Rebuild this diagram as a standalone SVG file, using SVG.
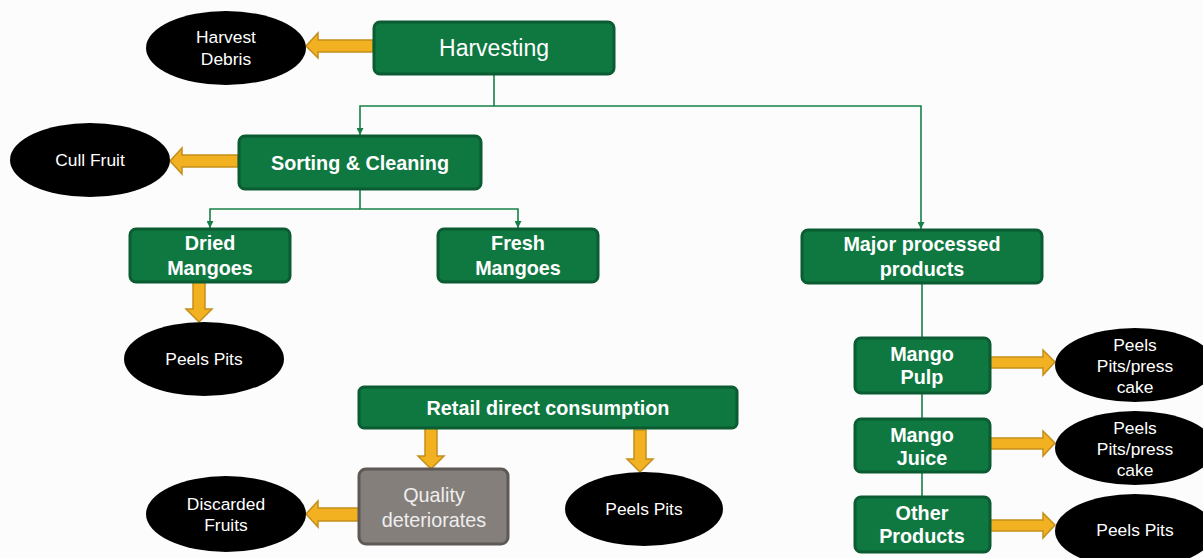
<svg xmlns="http://www.w3.org/2000/svg" width="1203" height="558" viewBox="0 0 1203 558">
<defs>
<style>
.box{fill:#0f7841;stroke:#0b5c32;stroke-width:3}
.gbox{fill:#857f7b;stroke:#5e5956;stroke-width:3}
.ell{fill:#000}
.conn{fill:none;stroke:#178048;stroke-width:1.6}
.arr{fill:#f1b121;stroke:#c38f1a;stroke-width:1.5;stroke-linejoin:miter}
text{font-family:"Liberation Sans",Arial,sans-serif;fill:#fff;text-anchor:middle}
.b{font-weight:bold;font-size:19.8px}
.e{font-size:17.4px}
.q{font-size:19.8px;fill:#eeeeee}
</style>
<marker id="ah" viewBox="0 0 10 10" refX="10" refY="5" markerWidth="7" markerHeight="7" markerUnits="userSpaceOnUse" orient="auto"><path d="M0,0 L10,5 L0,10 z" fill="#178048"/></marker>
</defs>
<rect width="1203" height="558" fill="#fcfcfc"/>
<g id="connectors">
<path class="conn" d="M494,74 V106 H921 V229" marker-end="url(#ah)"/>
<path class="conn" d="M494,106 H360 V135" marker-end="url(#ah)"/>
<path class="conn" d="M360,190 V209 H518 V228" marker-end="url(#ah)"/>
<path class="conn" d="M360,209 H210 V228" marker-end="url(#ah)"/>
<path class="conn" d="M922,283 V338 M922,393 V419 M922,472 V497"/>
<path class="arr" d="M373,40 H318 V33 L306,46 L318,58 V52 H373 Z"/>
<path class="arr" d="M238,155 H182 V148 L170,161 L182,174 V167 H238 Z"/>
<path class="arr" d="M193,282 V309 H186 L199,322 L212,309 H205 V282 Z"/>
<path class="arr" d="M425,428 V456 H418 L431,469 L444,456 H437 V428 Z"/>
<path class="arr" d="M634,430 V459 H627 L640,472 L653,459 H646 V430 Z"/>
<path class="arr" d="M359,508 H318 V501 L306,514 L318,527 V521 H359 Z"/>
<path class="arr" d="M990,357 H1043 V350 L1055,362 L1043,375 V368 H990 Z"/>
<path class="arr" d="M990,438 H1043 V431 L1055,443 L1043,456 V449 H990 Z"/>
<path class="arr" d="M990,520 H1043 V513 L1055,525 L1043,538 V531 H990 Z"/>
</g>
<g id="harvesting"><rect class="box" x="374" y="22" width="240" height="52" rx="6"/><text x="494" y="56" style="font-size:23px">Harvesting</text></g>
<g id="harvest-debris"><ellipse class="ell" cx="226" cy="48" rx="80" ry="37"/><text class="e" x="226" y="43">Harvest</text><text class="e" x="226" y="65">Debris</text></g>
<g id="sorting"><rect class="box" x="239" y="136" width="242" height="53" rx="6"/><text class="b" x="360" y="170">Sorting &amp; Cleaning</text></g>
<g id="cull-fruit"><ellipse class="ell" cx="90" cy="160" rx="80" ry="37"/><text class="e" x="90" y="166">Cull Fruit</text></g>
<g id="dried"><rect class="box" x="130" y="229" width="160" height="53" rx="6"/><text class="b" x="210" y="250">Dried</text><text class="b" x="210" y="275">Mangoes</text></g>
<g id="fresh"><rect class="box" x="438" y="229" width="160" height="53" rx="6"/><text class="b" x="518" y="250">Fresh</text><text class="b" x="518" y="275">Mangoes</text></g>
<g id="major"><rect class="box" x="802" y="230" width="240" height="53" rx="6"/><text class="b" x="922" y="251">Major processed</text><text class="b" x="922" y="276">products</text></g>
<g id="peels-dried"><ellipse class="ell" cx="204" cy="359" rx="80" ry="37"/><text class="e" x="204" y="365">Peels Pits</text></g>
<g id="retail"><rect class="box" x="359" y="387" width="378" height="41" rx="5"/><text class="b" x="548" y="415">Retail direct consumption</text></g>
<g id="quality"><rect class="gbox" x="359" y="469" width="149" height="75" rx="7"/><text class="q" x="434" y="502">Quality</text><text class="q" x="434" y="527">deteriorates</text></g>
<g id="discarded"><ellipse class="ell" cx="226" cy="514" rx="80" ry="38"/><text class="e" x="226" y="510">Discarded</text><text class="e" x="226" y="531">Fruits</text></g>
<g id="peels-retail"><ellipse class="ell" cx="644" cy="509" rx="79" ry="37"/><text class="e" x="644" y="515">Peels Pits</text></g>
<g id="pulp"><rect class="box" x="855" y="338" width="135" height="55" rx="6"/><text class="b" x="922" y="361">Mango</text><text class="b" x="922" y="384">Pulp</text></g>
<g id="juice"><rect class="box" x="855" y="419" width="135" height="53" rx="6"/><text class="b" x="922" y="442">Mango</text><text class="b" x="922" y="465">Juice</text></g>
<g id="other"><rect class="box" x="855" y="497" width="135" height="55" rx="6"/><text class="b" x="922" y="520">Other</text><text class="b" x="922" y="543">Products</text></g>
<g id="peels-pulp"><ellipse class="ell" cx="1135" cy="365" rx="80" ry="37"/><text class="e" x="1135" y="351">Peels</text><text class="e" x="1135" y="372">Pits/press</text><text class="e" x="1135" y="393">cake</text></g>
<g id="peels-juice"><ellipse class="ell" cx="1135" cy="448" rx="80" ry="37"/><text class="e" x="1135" y="434">Peels</text><text class="e" x="1135" y="455">Pits/press</text><text class="e" x="1135" y="476">cake</text></g>
<g id="peels-other"><ellipse class="ell" cx="1135" cy="531" rx="80" ry="37"/><text class="e" x="1135" y="536">Peels Pits</text></g>
</svg>
